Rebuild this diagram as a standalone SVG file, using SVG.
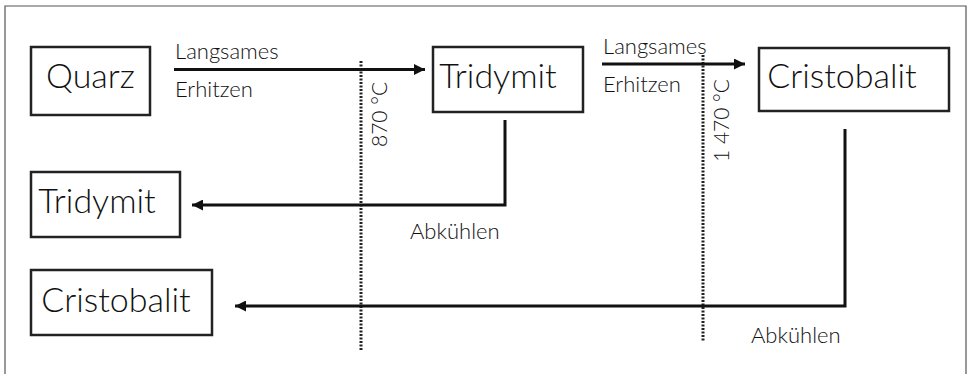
<svg xmlns="http://www.w3.org/2000/svg" width="972" height="374" viewBox="0 0 972 374">
<style>
.box{fill:#fff;stroke:#222;stroke-width:2.5}
.big{font-family:Lato,"Liberation Sans",sans-serif;font-weight:300;font-size:34px;fill:#111}
.lbl{font-family:Lato,"Liberation Sans",sans-serif;font-weight:300;font-size:22px;fill:#111}
.rot{font-size:21px}
.con{fill:none;stroke:#111;stroke-width:3}
.dot{fill:none;stroke:#222;stroke-width:3;stroke-dasharray:2 1.5}
.frame{fill:none;stroke:#555;stroke-width:1.2}
</style>
<defs>
<marker id="ah" viewBox="0 0 10 10" refX="10" refY="5" markerWidth="12" markerHeight="11" markerUnits="userSpaceOnUse" orient="auto">
<path d="M0,0 L10,5 L0,10 z" fill="#111"/>
</marker>
</defs>
<rect width="972" height="374" fill="#fff"/>
<path class="frame" d="M5,374 V6 H966 V374"/>
<g id="n-quarz"><rect class="box" x="31" y="47" width="119" height="68"/><text class="big" x="90.5" y="88" text-anchor="middle">Quarz</text></g>
<g id="n-tridymit-top"><rect class="box" x="433" y="47" width="150" height="65"/><text class="big" x="498" y="88" text-anchor="middle">Tridymit</text></g>
<g id="n-cristobalit-top"><rect class="box" x="759" y="48" width="190" height="63"/><text class="big" x="842" y="88" text-anchor="middle">Cristobalit</text></g>
<g id="n-tridymit-left"><rect class="box" x="31" y="172" width="149" height="65"/><text class="big" x="97" y="213" text-anchor="middle">Tridymit</text></g>
<g id="n-cristobalit-left"><rect class="box" x="31" y="270" width="181" height="65"/><text class="big" x="116" y="312" text-anchor="middle">Cristobalit</text></g>
<g id="connectors">
<line class="dot" x1="361" y1="61" x2="361" y2="351"/>
<line class="dot" x1="703" y1="55" x2="703" y2="341"/>
<line class="con" x1="174" y1="69.5" x2="425" y2="69.5" marker-end="url(#ah)"/>
<line class="con" x1="602" y1="64" x2="745" y2="64" marker-end="url(#ah)"/>
<path class="con" d="M505,120 V205 H192" marker-end="url(#ah)"/>
<path class="con" d="M845,129 V306 H235" marker-end="url(#ah)"/>
<text class="lbl" x="175" y="59">Langsames</text>
<text class="lbl" x="175" y="97">Erhitzen</text>
<text class="lbl" x="603" y="54">Langsames</text>
<text class="lbl" x="603" y="92">Erhitzen</text>
<text class="lbl" x="410" y="239">Abkühlen</text>
<text class="lbl" x="751" y="343">Abkühlen</text>
<text class="lbl rot" transform="translate(387,147) rotate(-90)">870 °C</text>
<text class="lbl rot" transform="translate(729,162) rotate(-90)">1 470 °C</text>
</g>
</svg>
